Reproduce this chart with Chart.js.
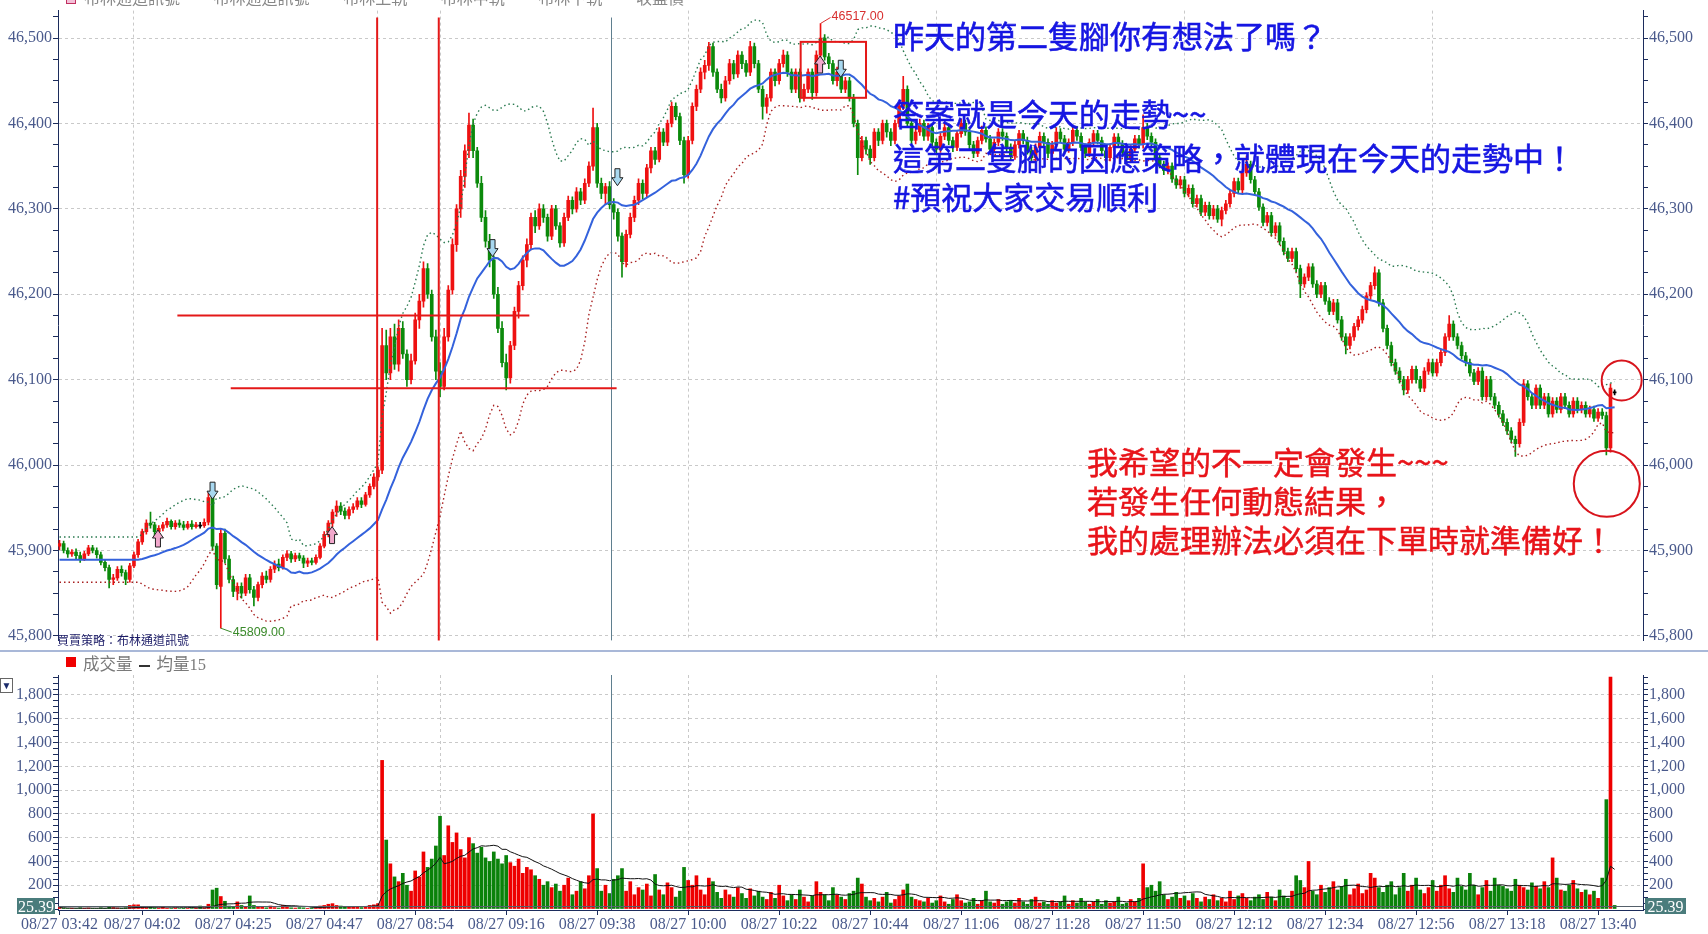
<!DOCTYPE html>
<html><head><meta charset="utf-8">
<script src="https://cdn.jsdelivr.net/npm/chart.js@4"></script>
<style>
html,body{margin:0;padding:0;background:#fff;width:1708px;height:934px;overflow:hidden;}
#wrap{position:relative;width:1708px;height:934px;overflow:hidden;}
canvas{position:absolute;left:0;}
#c1{top:0;}
#c2{top:651px;}
.t{position:absolute;white-space:nowrap;font-family:"Noto Sans CJK TC","Noto Sans CJK SC",sans-serif;}
.blue{color:#1616e2;font-size:31px;line-height:31px;left:893px;-webkit-text-stroke:0.6px #1616e2;}
.red{color:#e8141a;font-size:31px;line-height:31px;left:1087px;-webkit-text-stroke:0.5px #e8141a;}
.box{position:absolute;background:#4a7c7c;color:#fff;font:16px "Liberation Serif",serif;line-height:17px;text-align:center;}
</style></head>
<body><div id="wrap">
<canvas id="c1" width="1708" height="651"></canvas>
<canvas id="c2" width="1708" height="283"></canvas>
<div style="position:absolute;left:0;top:650px;width:1708px;height:2px;background:#a9b8d8;"></div>
<div class="t" style="left:66px;top:-15px;font-size:16px;color:#888;word-spacing:30px;"><span style="display:inline-block;width:8px;height:8px;border:1px solid #c03060;background:#f4c0d8;margin-right:8px;"></span>布林通道訊號 布林通道訊號 布林上軌 布林中軌 布林下軌 收盤價</div>
<div class="t blue" style="top:19px;">昨天的第二隻腳你有想法了嗎？</div>
<div class="t blue" style="top:97px;">答案就是今天的走勢~~</div>
<div class="t blue" style="top:141px;">這第二隻腳的因應策略，就體現在今天的走勢中！</div>
<div class="t blue" style="top:180px;">#預祝大家交易順利</div>
<div class="t red" style="top:445px;">我希望的不一定會發生~~~</div>
<div class="t red" style="top:484px;">若發生任何動態結果，</div>
<div class="t red" style="top:523px;">我的處理辦法必須在下單時就準備好！</div>
<div class="t" style="left:57px;top:632px;font-size:12px;line-height:16px;color:#1a1a66;">買賣策略：布林通道訊號</div>
<div style="position:absolute;left:66px;top:657px;width:10px;height:10px;background:#f00000;"></div>
<div class="t" style="left:83px;top:653px;font-size:16.5px;line-height:20px;color:#7a7a7a;">成交量<span style="display:inline-block;width:11px;height:2px;background:#333;vertical-align:middle;margin:0 7px 0 6px;"></span>均量<span style="font-family:'Liberation Serif',serif;">15</span></div>
<div style="position:absolute;left:0;top:678px;width:11px;height:13px;border:1.5px solid #666;background:#fff;color:#1a2a6a;font-size:10px;line-height:13px;text-align:center;">▼</div>
<div class="box" style="left:17px;top:898px;width:38px;height:16px;">25.39</div>
<div class="box" style="left:1645px;top:898px;width:41px;height:16px;">25.39</div>
</div>
<script>
// ---------------- DATA ----------------
const opens = [
45905,45908,45900,45896,45898,45894,45890,45896,45903,45900,
45895,45886,45880,45866,45868,45878,45874,45866,45882,45895,
45910,45922,45932,45930,45922,45926,45930,45934,45928,45932,
45930,45927,45931,45928,45930,45929,45933,45962,45905,45858,
45920,45890,45866,45852,45858,45850,45868,45854,45845,45860,
45870,45866,45878,45884,45880,45892,45896,45890,45894,45891,
45885,45888,45886,45892,45905,45919,45932,45945,45952,45946,
45941,45948,45951,45958,45954,45965,45975,45986,45994,46140,
46108,46150,46118,46160,46130,46100,46122,46170,46192,46230,
46200,46150,46110,46092,46150,46205,46258,46300,46338,46368,
46398,46368,46330,46290,46262,46240,46200,46160,46120,46102,
46140,46180,46210,46240,46258,46290,46280,46300,46290,46268,
46300,46280,46260,46290,46310,46300,46320,46310,46330,46350,
46395,46330,46318,46326,46305,46296,46268,46238,46270,46290,
46310,46330,46318,46348,46368,46358,46390,46378,46400,46420,
46408,46380,46340,46380,46420,46440,46460,46468,46490,46460,
46440,46430,46450,46470,46458,46480,46470,46460,46490,46470,
46440,46420,46430,46460,46450,46470,46480,46460,46440,46460,
46430,46440,46460,46436,46480,46500,46478,46470,46450,46460,
46440,46450,46430,46400,46360,46380,46370,46360,46390,46380,
46400,46390,46380,46400,46420,46440,46400,46380,46390,46400,
46385,46395,46378,46370,46385,46395,46380,46372,46388,46400,
46390,46375,46365,46380,46392,46382,46370,46378,46390,46385,
46372,46362,46375,46388,46380,46368,46360,46372,46385,46378,
46365,46375,46390,46382,46370,46378,46392,46385,46372,46365,
46378,46388,46380,46368,46360,46372,46384,46376,46366,46358,
46370,46382,46375,46395,46385,46378,46360,46352,46345,46350,
46335,46328,46334,46318,46324,46306,46312,46296,46304,46292,
46300,46288,46298,46306,46318,46332,46322,46342,46352,46334,
46320,46302,46284,46292,46272,46280,46262,46250,46242,46250,
46230,46212,46220,46232,46212,46200,46210,46192,46180,46190,
46170,46150,46140,46150,46162,46170,46182,46198,46210,46225,
46190,46160,46140,46120,46110,46100,46088,46100,46112,46100,
46090,46110,46120,46108,46120,46132,46150,46165,46150,46140,
46128,46120,46108,46098,46110,46080,46100,46080,46070,46060,
46050,46040,46030,46025,46050,46095,46080,46070,46090,46070,
46080,46060,46075,46065,46080,46070,46060,46075,46065,46070,
46060,46065,46055,46062,46058,46020,46086];
const highs = [
45912,45911,45903,45901,45902,45898,45899,45906,45906,45903,
45898,45889,45883,45872,45881,45882,45877,45885,45898,45913,
45925,45936,45945,45933,45929,45933,45938,45936,45935,45936,
45934,45934,45935,45933,45933,45937,45968,45965,45908,45926,
45925,45894,45870,45862,45862,45872,45872,45858,45863,45874,
45876,45881,45888,45890,45895,45900,45899,45897,45897,45894,
45891,45891,45895,45908,45922,45935,45948,45958,45956,45950,
45951,45955,45962,45962,45968,45978,45990,45998,46160,46158,
46160,46165,46170,46168,46135,46130,46178,46200,46238,46236,
46205,46158,46120,46160,46210,46265,46305,46345,46375,46412,
46405,46372,46338,46298,46270,46245,46208,46168,46130,46145,
46185,46215,46245,46265,46295,46298,46306,46305,46294,46304,
46304,46284,46295,46315,46314,46325,46324,46335,46355,46418,
46400,46336,46330,46332,46312,46300,46272,46275,46295,46315,
46335,46334,46352,46372,46372,46395,46394,46404,46425,46424,
46412,46384,46385,46424,46445,46465,46474,46495,46494,46464,
46446,46455,46475,46474,46485,46484,46474,46496,46494,46474,
46444,46434,46464,46464,46475,46486,46484,46464,46464,46464,
46446,46464,46464,46485,46517,46504,46482,46474,46466,46464,
46454,46454,46434,46404,46385,46384,46374,46394,46394,46404,
46404,46394,46404,46424,46455,46444,46404,46395,46405,46404,
46400,46399,46382,46390,46400,46399,46384,46392,46405,46404,
46394,46379,46384,46397,46396,46386,46382,46394,46394,46389,
46376,46379,46392,46392,46384,46372,46376,46390,46389,46382,
46379,46395,46394,46386,46382,46397,46396,46389,46376,46382,
46392,46392,46384,46372,46376,46388,46388,46380,46370,46374,
46386,46386,46410,46400,46389,46382,46364,46356,46354,46354,
46339,46338,46338,46328,46328,46316,46316,46308,46308,46304,
46304,46302,46310,46322,46336,46336,46346,46362,46356,46338,
46324,46306,46296,46296,46284,46284,46266,46254,46254,46254,
46234,46224,46236,46236,46216,46214,46214,46196,46194,46194,
46174,46154,46154,46166,46174,46186,46202,46214,46232,46229,
46194,46164,46144,46124,46114,46104,46104,46116,46116,46104,
46114,46124,46124,46124,46136,46154,46175,46169,46154,46144,
46132,46124,46112,46114,46114,46104,46104,46084,46074,46064,
46054,46044,46034,46054,46100,46099,46084,46094,46094,46084,
46084,46079,46079,46084,46084,46074,46079,46079,46074,46074,
46069,46069,46066,46066,46062,46095,46088];
const lows = [
45901,45897,45892,45893,45890,45886,45888,45894,45897,45891,
45883,45876,45856,45860,45865,45870,45860,45863,45880,45892,
45907,45919,45926,45916,45918,45923,45927,45925,45925,45927,
45924,45925,45925,45926,45926,45927,45930,45900,45855,45809,
45885,45862,45846,45842,45844,45847,45850,45835,45841,45856,
45862,45863,45874,45876,45878,45888,45886,45887,45888,45880,
45881,45883,45884,45890,45903,45916,45928,45940,45942,45937,
45937,45944,45948,45950,45952,45962,45972,45982,45990,46100,
46100,46112,46110,46125,46092,46095,46118,46160,46185,46195,
46145,46100,46080,46088,46145,46200,46250,46290,46325,46360,
46360,46325,46285,46255,46232,46195,46155,46115,46088,46096,
46135,46172,46205,46232,46252,46272,46276,46284,46262,46264,
46276,46255,46256,46286,46294,46296,46305,46306,46326,46345,
46325,46312,46305,46300,46288,46262,46220,46232,46266,46285,
46305,46312,46314,46342,46352,46355,46374,46374,46396,46404,
46375,46330,46336,46376,46415,46436,46452,46462,46455,46436,
46424,46426,46446,46452,46454,46464,46455,46456,46465,46436,
46405,46412,46426,46444,46446,46466,46455,46436,46436,46425,
46426,46436,46428,46432,46476,46474,46464,46446,46444,46436,
46436,46426,46396,46340,46356,46364,46352,46356,46374,46376,
46384,46374,46376,46396,46416,46396,46376,46376,46386,46380,
46380,46373,46364,46366,46381,46375,46367,46368,46384,46386,
46370,46360,46361,46376,46378,46365,46366,46374,46380,46367,
46357,46358,46371,46376,46364,46355,46356,46368,46373,46360,
46361,46371,46378,46366,46366,46374,46380,46368,46360,46361,
46374,46376,46364,46355,46356,46368,46372,46362,46353,46354,
46366,46371,46371,46381,46374,46356,46348,46340,46341,46331,
46324,46324,46314,46314,46302,46302,46292,46292,46288,46288,
46284,46280,46294,46302,46314,46318,46318,46338,46330,46316,
46298,46280,46280,46268,46268,46258,46246,46238,46238,46226,
46196,46208,46216,46208,46196,46196,46188,46176,46176,46166,
46146,46130,46136,46146,46158,46166,46178,46194,46206,46186,
46156,46136,46116,46106,46096,46082,46084,46096,46096,46086,
46086,46106,46104,46104,46116,46128,46146,46146,46136,46124,
46116,46104,46094,46094,46076,46076,46076,46066,46056,46046,
46036,46026,46010,46021,46046,46076,46066,46066,46066,46066,
46056,46056,46061,46061,46066,46056,46056,46061,46061,46056,
46056,46051,46051,46054,46012,46015,46082];
const closes = [
45908,45900,45896,45898,45894,45890,45896,45903,45900,45895,
45886,45880,45866,45868,45878,45874,45866,45882,45895,45910,
45922,45932,45930,45922,45926,45930,45934,45928,45932,45930,
45927,45931,45928,45930,45929,45933,45962,45905,45860,45920,
45890,45866,45852,45858,45850,45868,45854,45845,45860,45870,
45866,45878,45884,45880,45892,45896,45890,45894,45891,45885,
45888,45886,45892,45905,45919,45932,45945,45952,45946,45941,
45948,45951,45958,45954,45965,45975,45986,45994,46140,46108,
46150,46118,46160,46130,46100,46122,46170,46192,46230,46200,
46150,46110,46092,46150,46205,46258,46300,46338,46368,46398,
46368,46330,46290,46262,46240,46200,46160,46120,46102,46140,
46180,46210,46240,46258,46290,46280,46300,46290,46268,46300,
46280,46260,46290,46310,46300,46320,46310,46330,46350,46395,
46330,46318,46326,46305,46296,46268,46238,46270,46290,46310,
46330,46318,46348,46368,46358,46390,46378,46400,46420,46408,
46380,46340,46380,46420,46440,46460,46468,46490,46460,46440,
46430,46450,46470,46458,46480,46470,46460,46490,46470,46440,
46420,46430,46460,46450,46470,46480,46460,46440,46460,46430,
46440,46460,46436,46480,46500,46478,46470,46450,46460,46440,
46450,46430,46400,46360,46380,46370,46360,46390,46380,46400,
46390,46380,46400,46420,46440,46400,46380,46390,46400,46385,
46395,46378,46370,46385,46395,46380,46372,46388,46400,46390,
46375,46365,46380,46392,46382,46370,46378,46390,46385,46372,
46362,46375,46388,46380,46368,46360,46372,46385,46378,46365,
46375,46390,46382,46370,46378,46392,46385,46372,46365,46378,
46388,46380,46368,46360,46372,46384,46376,46366,46358,46370,
46382,46375,46395,46385,46378,46360,46352,46345,46350,46335,
46328,46334,46318,46324,46306,46312,46296,46304,46292,46300,
46288,46298,46306,46318,46332,46322,46342,46352,46334,46320,
46302,46284,46292,46272,46280,46262,46250,46242,46250,46230,
46212,46220,46232,46212,46200,46210,46192,46180,46190,46170,
46150,46140,46150,46162,46170,46182,46198,46210,46225,46190,
46160,46140,46120,46110,46100,46088,46100,46112,46100,46090,
46110,46120,46108,46120,46132,46150,46165,46150,46140,46128,
46120,46108,46098,46110,46080,46100,46080,46070,46060,46050,
46040,46030,46025,46050,46095,46080,46070,46090,46070,46080,
46060,46075,46065,46080,46070,46060,46075,46065,46070,46060,
46065,46055,46062,46058,46020,46090,46085];
const volumes = [
12,8,5,6,4,10,6,8,5,4,
10,6,14,12,8,6,10,30,35,35,
15,12,18,10,8,15,6,5,8,4,
6,5,4,8,25,10,40,160,175,105,
65,25,15,60,30,20,110,30,20,15,
10,25,12,8,30,15,10,8,12,10,
6,8,10,25,30,40,45,30,25,15,
20,15,18,12,20,30,35,45,1250,580,
380,270,230,300,200,150,320,270,480,350,
420,530,780,450,700,560,640,500,430,600,
550,470,520,430,400,480,420,380,450,390,
360,420,300,350,330,280,250,200,230,180,
210,150,200,260,120,150,230,170,280,800,
340,150,200,130,250,280,340,150,230,120,
180,160,210,110,290,160,120,220,180,100,
150,350,240,200,280,160,120,260,230,140,
90,160,120,100,180,130,90,170,110,150,
100,80,140,90,200,110,70,120,80,160,
100,60,110,230,140,120,70,180,120,100,
80,130,150,260,210,100,70,90,60,100,
140,50,80,110,160,210,100,80,70,60,
90,50,70,110,60,40,80,120,70,50,
60,90,40,70,150,60,50,80,40,60,
70,50,90,60,40,80,100,50,60,40,
70,50,60,110,40,70,50,90,60,40,
60,80,40,70,50,60,100,40,50,80,
60,90,380,180,200,150,230,120,80,100,
140,90,110,70,130,90,60,100,80,120,
70,90,60,150,80,110,130,90,70,100,
120,80,140,100,70,160,110,90,150,280,
240,180,400,150,120,200,140,180,230,160,
190,250,120,170,210,130,160,300,260,180,
140,200,230,120,180,300,150,200,260,160,
130,180,240,150,200,280,170,140,260,190,
160,300,200,120,180,240,150,260,200,190,
170,150,250,200,180,160,220,190,170,230,
180,430,260,160,150,200,240,170,140,160,
120,150,90,260,920,1950,30];
const tickIdx = [0,20,42,64,86,108,130,152,174,196,218,240,262,284,306,328,350,372];
const tickLabels = ['08/27 03:42','08/27 04:02','08/27 04:25','08/27 04:47','08/27 08:54','08/27 09:16','08/27 09:38','08/27 10:00','08/27 10:22','08/27 10:44','08/27 11:06','08/27 11:28','08/27 11:50','08/27 12:12','08/27 12:34','08/27 12:56','08/27 13:18','08/27 13:40'];
const hourIdx = [18,77,92,152,212,272,332]; // 04:00 05:00 09:00 10:00 11:00 12:00 13:00
const priceTicks = [45800,45900,46000,46100,46200,46300,46400,46500];
const volTicks = [200,400,600,800,1000,1200,1400,1600,1800];
const highLabel = {i:184, v:46517, text:'46517.00'};
const lowLabel = {i:39, v:45809, text:'45809.00'};
const buyArrows = [{x:23.8,y:45914},{x:65.9,y:45918},{x:183.9,y:46469}];
const sellArrows = [{x:37,y:45970},{x:104.7,y:46254},{x:134.9,y:46337},{x:188.9,y:46464}];
const redVLines = [76.8, 91.7];
const cursorX = 133.3;
const redHLines = [{y:46175,x0:28.5,x1:113.6},{y:46090,x0:41.4,x1:134.7}];
const redBox = {x0:179.2,x1:195,y0:46430,y1:46495.5};
const circles = [{x:377.7,y:46099,r:20},{x:374.1,y:45978,r:33}];
const volLevel = 25.39;

// ---------------- DERIVED (indicators) ----------------
const N = closes.length;
const idx = closes.map((_, i) => i);
const mid = [], up = [], lo = [];
for (let i = 0; i < N; i++) {
  const s = i < 19 ? 0 : i - 19;
  const w = closes.slice(s, s + 20);
  const m = w.reduce((a, b) => a + b, 0) / w.length;
  const sd = Math.sqrt(w.reduce((a, b) => a + (b - m) * (b - m), 0) / w.length);
  mid.push(m); up.push(m + 2 * sd); lo.push(m - 2 * sd);
}
const vma = volumes.map((_, i) => {
  const s = Math.max(0, i - 14); const w = volumes.slice(s, i + 1);
  return w.reduce((a, b) => a + b, 0) / w.length;
});
const RED = '#ee1111', GREEN = '#0b8a0b';
const candleColor = idx.map(i => closes[i] - opens[i] > 1 ? RED : (opens[i] - closes[i] > 1 ? GREEN : '#000000'));
const volColor = idx.map(i => closes[i] >= opens[i] ? '#ee0000' : '#0a820a');

const X_MIN = -0.363, X_MAX = 382.86;
const hourSet = new Set(hourIdx), labSet = new Set(tickIdx);
const labMap = {}; tickIdx.forEach((v, k) => labMap[v] = tickLabels[k]);
const AXIS = '#1c2c5c', TXT = '#4a5a8c', GRID = '#c9c9c9';
const tickFont = {family: "'Liberation Serif', 'Times New Roman', serif", size: 16};

function yAxis(pos, min, max, stepTicks, labelSet, fmt) {
  return {
    type: 'linear', position: pos, min, max,
    afterBuildTicks: s => { s.ticks = stepTicks.map(v => ({value: v})); },
    afterFit: s => { s.width = pos === 'left' ? 58 : 65; },
    ticks: {autoSkip: false, color: TXT, font: tickFont, padding: 1,
      callback: v => labelSet.has(v) ? fmt(v) : ''},
    grid: {drawOnChartArea: pos === 'left', tickLength: 5, tickColor: AXIS,
      color: c => (c.tick && labelSet.has(c.tick.value)) ? GRID : 'rgba(0,0,0,0)'},
    border: {display: true, color: AXIS, width: 1, dash: [3, 3]}
  };
}
const pMinor = []; for (let v = 45800; v <= 46525; v += 25) pMinor.push(v);
const vMinor = []; for (let v = 0; v <= 1950; v += 50) vMinor.push(v);
const pSet = new Set(priceTicks), vSet = new Set(volTicks);
const fmtN = v => v.toLocaleString('en-US');

function arrow(ctx, cx, cy, isUp, fill) {
  const s = isUp ? 1 : -1;
  ctx.beginPath();
  ctx.moveTo(cx, cy - 8.5 * s);
  ctx.lineTo(cx + 5.5, cy - 0.5 * s);
  ctx.lineTo(cx + 2.5, cy - 0.5 * s);
  ctx.lineTo(cx + 2.5, cy + 8.5 * s);
  ctx.lineTo(cx - 2.5, cy + 8.5 * s);
  ctx.lineTo(cx - 2.5, cy - 0.5 * s);
  ctx.lineTo(cx - 5.5, cy - 0.5 * s);
  ctx.closePath();
  ctx.fillStyle = fill; ctx.fill();
  ctx.strokeStyle = '#222'; ctx.lineWidth = 1; ctx.stroke();
}

const annot = {
  id: 'annot',
  afterDatasetsDraw(chart) {
    const {ctx, chartArea: a, scales: {x, y}} = chart;
    ctx.save();
    ctx.strokeStyle = '#5f7f8f'; ctx.lineWidth = 1;
    let px = Math.round(x.getPixelForValue(cursorX)) + 0.5;
    ctx.beginPath(); ctx.moveTo(px, y.getPixelForValue(46524)); ctx.lineTo(px, a.bottom); ctx.stroke();
    ctx.strokeStyle = '#e41818'; ctx.lineWidth = 2;
    redVLines.forEach(v => { const p = x.getPixelForValue(v); ctx.beginPath(); ctx.moveTo(p, y.getPixelForValue(46524)); ctx.lineTo(p, a.bottom); ctx.stroke(); });
    redHLines.forEach(h => { const py = y.getPixelForValue(h.y); ctx.beginPath(); ctx.moveTo(x.getPixelForValue(h.x0), py); ctx.lineTo(x.getPixelForValue(h.x1), py); ctx.stroke(); });
    const bx0 = x.getPixelForValue(redBox.x0), bx1 = x.getPixelForValue(redBox.x1);
    const by0 = y.getPixelForValue(redBox.y1), by1 = y.getPixelForValue(redBox.y0);
    ctx.strokeRect(bx0, by0, bx1 - bx0, by1 - by0);
    ctx.strokeStyle = '#d8141c';
    circles.forEach(c => { ctx.beginPath(); ctx.arc(x.getPixelForValue(c.x), y.getPixelForValue(c.y), c.r, 0, Math.PI * 2); ctx.stroke(); });
    buyArrows.forEach(p => arrow(ctx, x.getPixelForValue(p.x), y.getPixelForValue(p.y), true, '#f2a8cc'));
    sellArrows.forEach(p => arrow(ctx, x.getPixelForValue(p.x), y.getPixelForValue(p.y), false, '#a8d8f0'));
    ctx.font = '12.5px "Liberation Sans", Arial, sans-serif';
    ctx.textBaseline = 'middle'; ctx.textAlign = 'left';
    let hx = x.getPixelForValue(highLabel.i), hy = y.getPixelForValue(highLabel.v);
    ctx.strokeStyle = '#d83030'; ctx.lineWidth = 1;
    ctx.beginPath(); ctx.moveTo(hx, hy); ctx.lineTo(hx + 10, hy - 6); ctx.stroke();
    ctx.fillStyle = '#d83030'; ctx.fillText(highLabel.text, hx + 11, hy - 6.5);
    let lx = x.getPixelForValue(lowLabel.i), ly = y.getPixelForValue(lowLabel.v);
    ctx.strokeStyle = '#3a8a2a';
    ctx.beginPath(); ctx.moveTo(lx, ly); ctx.lineTo(lx + 11, ly + 4); ctx.stroke();
    ctx.fillStyle = '#3a8a2a'; ctx.fillText(lowLabel.text, lx + 12, ly + 4);
    ctx.restore();
  }
};

const xHidden = {
  type: 'linear', position: 'bottom', min: X_MIN, max: X_MAX, offset: false,
  afterBuildTicks: s => { s.ticks = hourIdx.map(v => ({value: v})); },
  afterFit: s => { s.height = 0; },
  ticks: {display: false},
  grid: {drawTicks: false, offset: false, color: GRID},
  border: {display: false, dash: [3, 3]}
};

new Chart(document.getElementById('c1'), {
  type: 'bar',
  data: {datasets: [
    {type: 'line', data: idx.map(i => ({x: i, y: mid[i]})), borderColor: '#3462dc', borderWidth: 2, pointRadius: 0, order: 1},
    {type: 'line', data: idx.map(i => ({x: i, y: up[i]})), borderColor: '#2a7a50', borderWidth: 1.4, borderDash: [1.5, 3], pointRadius: 0, order: 1},
    {type: 'line', data: idx.map(i => ({x: i, y: lo[i]})), borderColor: '#a82020', borderWidth: 1.4, borderDash: [1.5, 3], pointRadius: 0, order: 1},
    {data: idx.map(i => ({x: i, y: [lows[i], highs[i]]})), backgroundColor: candleColor, barThickness: 1, grouped: false, order: 3},
    {data: idx.map(i => { const a = Math.min(opens[i], closes[i]), b = Math.max(opens[i], closes[i]);
        return {x: i, y: b - a > 1 ? [a, b] : [a - 0.6, a + 0.6]}; }),
     backgroundColor: candleColor, barThickness: 3, grouped: false, order: 2}
  ]},
  options: {
    responsive: false, animation: false, events: [],
    layout: {padding: {top: 0, bottom: 1, left: 0, right: 0}, autoPadding: false},
    plugins: {legend: {display: false}, tooltip: {enabled: false}},
    scales: {
      x: xHidden,
      y: yAxis('left', 45794.7, 46532.1, pMinor, pSet, fmtN),
      y2: yAxis('right', 45794.7, 46532.1, pMinor, pSet, fmtN)
    }
  },
  plugins: [annot]
});

const volAnnot = {
  id: 'volAnnot',
  afterDatasetsDraw(chart) {
    const {ctx, chartArea: a, scales: {x, y}} = chart;
    ctx.save();
    const py = Math.round(y.getPixelForValue(volLevel)) + 0.5;
    ctx.strokeStyle = '#55606a'; ctx.lineWidth = 1;
    ctx.beginPath(); ctx.moveTo(a.left, py); ctx.lineTo(a.right, py); ctx.stroke();
    ctx.strokeStyle = '#5f7f8f';
    const px = Math.round(x.getPixelForValue(cursorX)) + 0.5;
    ctx.beginPath(); ctx.moveTo(px, a.top); ctx.lineTo(px, a.bottom); ctx.stroke();
    ctx.restore();
  }
};

new Chart(document.getElementById('c2'), {
  type: 'bar',
  data: {datasets: [
    {type: 'line', data: idx.map(i => ({x: i, y: vma[i]})), borderColor: '#111', borderWidth: 1, pointRadius: 0, order: 1},
    {data: idx.map(i => ({x: i, y: [0, volumes[i]]})), backgroundColor: volColor, barThickness: 3, grouped: false, order: 2}
  ]},
  options: {
    responsive: false, animation: false, events: [],
    layout: {padding: {top: 24, bottom: 0, left: 0, right: 0}, autoPadding: false},
    plugins: {legend: {display: false}, tooltip: {enabled: false}},
    scales: {
      x: {
        type: 'linear', position: 'bottom', min: X_MIN, max: X_MAX, offset: false,
        afterBuildTicks: s => { s.ticks = Array.from(new Set([...tickIdx, ...hourIdx])).sort((p, q) => p - q).map(v => ({value: v})); },
        afterFit: s => { s.height = 24; },
        ticks: {autoSkip: false, maxRotation: 0, minRotation: 0, color: TXT, font: tickFont, padding: 0,
          callback: v => labMap[v] !== undefined ? labMap[v] : ''},
        grid: {offset: false, tickLength: 5,
          color: c => (c.tick && hourSet.has(c.tick.value)) ? GRID : 'rgba(0,0,0,0)',
          tickColor: c => (c.tick && labSet.has(c.tick.value)) ? AXIS : 'rgba(0,0,0,0)'},
        border: {display: true, color: AXIS, width: 1, dash: [3, 3]}
      },
      y: yAxis('left', -8.4, 1968.2, vMinor, vSet, fmtN),
      y2: yAxis('right', -8.4, 1968.2, vMinor, vSet, fmtN)
    }
  },
  plugins: [volAnnot]
});
</script>
</body></html>
